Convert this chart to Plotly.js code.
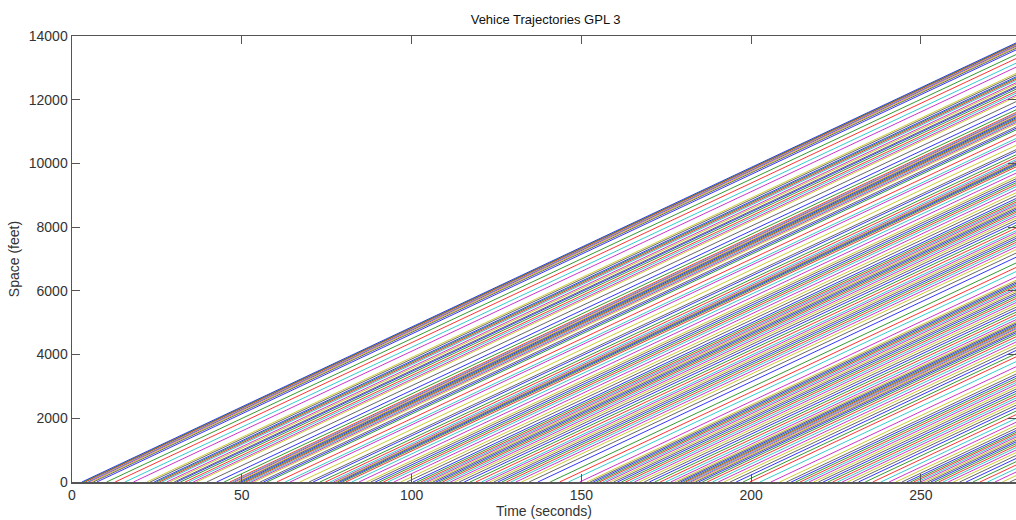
<!DOCTYPE html>
<html>
<head>
<meta charset="utf-8">
<script src="https://cdn.plot.ly/plotly-3.0.1.min.js"></script>
<style>html,body{margin:0;padding:0;background:#fff;}#chart{width:1016px;height:520px;}</style>
</head>
<body>
<div id="chart"></div>
<script>
// Entry times (seconds) at which each vehicle passes space = 0
var entryTimes = [
  2.9,3.4,3.9,4.5,5.0,5.6,6.3,7.3,10.2,12.7,15.6,18.1,
  22.0,23.0,24.2,24.9,25.7,26.5,27.9,28.8,30.1,30.8,31.9,33.3,34.4,35.7,36.6,39.7,
  42.6,44.8,46.5,47.2,47.8,48.5,49.1,49.8,50.5,51.2,52.0,52.8,53.6,55.4,56.4,57.4,
  60.3,62.8,64.2,67.1,69.8,71.0,73.0,74.6,76.0,77.0,77.6,78.2,78.9,79.6,
  80.6,82.4,84.5,86.7,88.0,89.3,90.5,91.7,93.0,94.8,96.8,98.6,
  100.4,101.6,102.7,103.6,104.5,105.4,106.3,107.2,108.1,109.1,110.2,111.4,112.6,114.0,115.5,117.2,118.9,
  120.6,121.8,123.0,124.2,125.4,126.6,127.9,129.2,130.7,132.4,134.6,137.2,
  140.8,143.6,146.2,149.5,151.6,152.6,153.5,154.4,155.3,156.3,157.3,158.4,159.5,
  160.6,161.8,163.0,164.3,165.6,167.0,168.5,170.0,171.6,173.2,174.8,176.3,177.5,178.4,179.2,
  180.0,180.7,181.4,182.1,182.8,183.6,184.5,185.6,187.0,188.6,190.3,192.0,193.8,195.6,197.6,199.6,
  202.6,205.8,208.4,210.4,211.8,213.1,214.4,215.7,217.0,218.4,219.8,
  221.2,222.6,224.0,225.4,226.8,228.3,229.9,231.6,233.6,235.8,238.2,
  240.6,242.6,244.4,245.8,246.9,247.9,248.9,249.9,250.9,251.9,252.9,254.0,255.2,256.5,258.0,259.6,
  261.4,263.3,265.3,267.4,269.6,271.8,274.0,276.2
];
// Cruise speed of the vehicles (feet per second)
var speedFtPerSec = 50.1;
// End of the plotted period (seconds)
var endTime = 278;
// MATLAB default line colour order
var colorOrder = ['#0000ff','#008000','#ff0000','#00bfbf','#bf00bf','#bfbf00','#404040'];

var xTickVals = [0,50,100,150,200,250];
var yTickVals = [0,2000,4000,6000,8000,10000,12000,14000];

var traces = entryTimes.map(function(t0, i){
  return {
    type: 'scatter', mode: 'lines',
    x: [t0, endTime],
    y: [0, speedFtPerSec * (endTime - t0)],
    line: {color: colorOrder[i % colorOrder.length], width: 0.8},
    hoverinfo: 'skip', showlegend: false
  };
});

var axisFont = {family: 'Liberation Sans, Arial, sans-serif', size: 14, color: '#333'};
var layout = {
  width: 1016, height: 520,
  margin: {l: 72, r: 0, t: 36, b: 38},
  paper_bgcolor: '#fff', plot_bgcolor: '#fff',
  showlegend: false,
  title: {text: 'Vehice Trajectories GPL 3', x: 0.537, xanchor: 'center', y: 0.963, yanchor: 'middle',
          font: {family: 'Liberation Sans, Arial, sans-serif', size: 13, color: '#111'}},
  xaxis: {
    range: [0, endTime], tickvals: xTickVals, ticktext: xTickVals.map(String),
    showgrid: false, zeroline: false, showline: true, linecolor: '#555', linewidth: 1.5,
    mirror: 'ticks', ticks: 'inside', ticklen: 8, tickwidth: 1, tickcolor: '#555',
    tickfont: axisFont,
    title: {text: 'Time (seconds)', font: axisFont, standoff: 1}
  },
  yaxis: {
    range: [0, 14000], tickvals: yTickVals, ticktext: yTickVals.map(String),
    showgrid: false, zeroline: false, showline: true, linecolor: '#555', linewidth: 1.5,
    mirror: 'ticks', ticks: 'inside', ticklen: 8, tickwidth: 1, tickcolor: '#555',
    tickfont: axisFont,
    title: {text: 'Space (feet)', font: axisFont, standoff: 6}
  }
};
Plotly.newPlot('chart', traces, layout, {staticPlot: true, displayModeBar: false});
</script>
</body>
</html>
